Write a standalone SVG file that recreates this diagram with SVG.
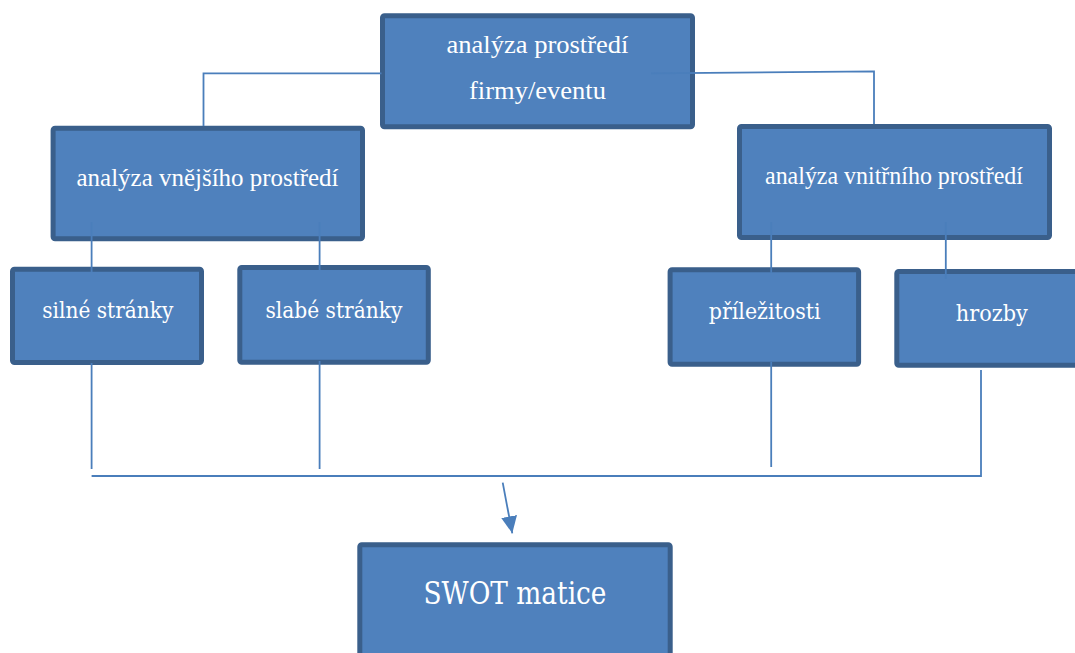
<svg xmlns="http://www.w3.org/2000/svg" width="1075" height="653" viewBox="0 0 1075 653">
<style>
.box{fill:#4F81BD;stroke:#3A5F8B;stroke-width:5}
.t1{font-family:"Liberation Serif","Times New Roman",serif;font-size:25px;fill:#FFFFFF;text-anchor:middle}
.t2{font-family:"DejaVu Serif","Liberation Serif",serif;font-size:22.5px;fill:#FFFFFF;text-anchor:middle}
.t3{font-family:"DejaVu Serif","Liberation Serif",serif;font-size:31.5px;fill:#FFFFFF;text-anchor:middle}
.c{fill:none;stroke:#4A7EBB;stroke-width:1.8}
</style>
<defs>
<marker id="arr" viewBox="0 0 17 16" refX="17" refY="8" markerWidth="17" markerHeight="16" markerUnits="userSpaceOnUse" orient="auto">
<path d="M0,0 L17,8 L0,16 z" fill="#4A7EBB"/>
</marker>
</defs>
<rect width="1075" height="653" fill="#FFFFFF"/>
<g id="n-top"><rect class="box" x="382.5" y="15.8" width="310" height="111" rx="2"/>
<text class="t1" x="537.5" y="53" textLength="182" lengthAdjust="spacingAndGlyphs">analýza prostředí</text>
<text class="t1" x="537.5" y="98.5" textLength="137" lengthAdjust="spacingAndGlyphs">firmy/eventu</text></g>
<g id="n-ext"><rect class="box" x="53.1" y="128.2" width="309.4" height="110.6" rx="2"/>
<text class="t1" x="207.5" y="185.5" textLength="262" lengthAdjust="spacingAndGlyphs">analýza vnějšího prostředí</text></g>
<g id="n-int"><rect class="box" x="739.5" y="126.5" width="310" height="111" rx="2"/>
<text class="t1" x="894" y="184" textLength="258" lengthAdjust="spacingAndGlyphs">analýza vnitřního prostředí</text></g>
<g id="n-s"><rect class="box" x="12.5" y="269.2" width="189" height="93.3" rx="2"/>
<text class="t2" x="107.8" y="318.3" textLength="131" lengthAdjust="spacingAndGlyphs">silné stránky</text></g>
<g id="n-w"><rect class="box" x="239.8" y="267.5" width="188.5" height="94.7" rx="2"/>
<text class="t2" x="333.9" y="317.7" textLength="137" lengthAdjust="spacingAndGlyphs">slabé stránky</text></g>
<g id="n-o"><rect class="box" x="670.1" y="269.8" width="188.5" height="94.4" rx="2"/>
<text class="t2" x="764.7" y="319.3" textLength="112" lengthAdjust="spacingAndGlyphs">příležitosti</text></g>
<g id="n-t"><rect class="box" x="896.8" y="271.5" width="200" height="93.7" rx="2"/>
<text class="t2" x="991.8" y="320.7" textLength="72" lengthAdjust="spacingAndGlyphs">hrozby</text></g>
<g id="n-swot"><rect class="box" x="359.8" y="544.8" width="310.4" height="130" rx="2"/>
<text class="t3" x="515" y="604.3" textLength="183" lengthAdjust="spacingAndGlyphs">SWOT matice</text></g>
<g id="connectors">
<path class="c" d="M381.5,73.3 L203.5,73.3 L203.5,126"/>
<path class="c" d="M651,73.3 L874,71.3 L874,124"/>
<path class="c" d="M91.6,222 L91.6,272"/>
<path class="c" d="M319.6,222 L319.6,270"/>
<path class="c" d="M771.2,222 L771.2,273"/>
<path class="c" d="M945.8,222 L945.8,279"/>
<path class="c" d="M91.6,363 L91.6,469"/>
<path class="c" d="M319.6,361 L319.6,469"/>
<path class="c" d="M771.2,362 L771.2,467"/>
<path class="c" d="M91.6,476 L981,476 L981,370"/>
<path class="c" d="M502.7,482.7 L512.3,533.3" marker-end="url(#arr)"/>
</g>
</svg>
